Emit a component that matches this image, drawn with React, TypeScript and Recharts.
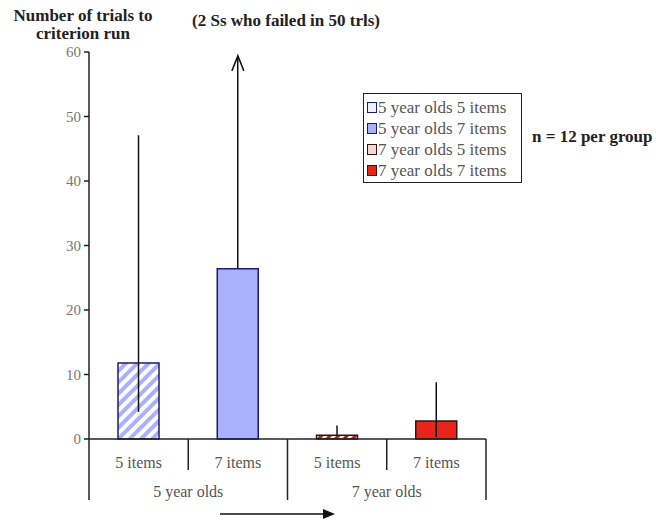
import { BarChart, Bar, XAxis, YAxis, Cell, ErrorBar, ReferenceDot } from 'recharts';

const categories = ['5 items', '7 items', '5 items', '7 items'];
const groups = ['5 year olds', '5 year olds', '7 year olds', '7 year olds'];
const meanTrials = [11.8, 26.4, 0.6, 2.8];
const errorBelow = [7.6, 0, 0, 2.5];
const errorAbove = [35.3, 33.0, 1.5, 6.0];
const seriesNames = ['5 year olds 5 items', '5 year olds 7 items', '7 year olds 5 items', '7 year olds 7 items'];
const yTicks = [0, 10, 20, 30, 40, 50, 60];
// the 2 Ss who failed in 50 trials push the bar's error past the top
const failedCeiling = 59.4;

const FONT = '"Liberation Serif", "Times New Roman", serif';
const fills = ['url(#hatchBlue)', '#aab0fc', 'url(#hatchRed)', '#e8251a'];
const strokes = ['#1c1c6e', '#1c1c6e', '#3a1010', '#3a1010'];
const swatches = ['#eef0ff', '#aab0fc', '#f4d6d6', '#e8251a'];

const data = categories.map((item, i) => ({
  key: `c${i}`,
  item,
  group: groups[i],
  value: meanTrials[i],
  err: [errorBelow[i], errorAbove[i]],
}));

function CategoryTick(props: any) {
  const { x, y, index, visibleTicksCount, width } = props;
  const n = visibleTicksCount || categories.length;
  const bw = width / n;
  const left = x - bw / 2;
  const groupStart = index === 0 || groups[index] !== groups[index - 1];
  const last = index === n - 1;
  return (
    <g>
      <line x1={left} y1={y} x2={left} y2={groupStart ? y + 61 : y + 31} stroke="#222" strokeWidth={1.5} />
      {last && <line x1={left + bw} y1={y} x2={left + bw} y2={y + 61} stroke="#222" strokeWidth={1.5} />}
      <text x={x} y={y + 29} textAnchor="middle" fontFamily={FONT} fontSize={16} fill="#555">
        {categories[index]}
      </text>
      {groupStart && (
        <text x={left + bw} y={y + 58} textAnchor="middle" fontFamily={FONT} fontSize={16} fill="#555">
          {groups[index]}
        </text>
      )}
    </g>
  );
}

function ArrowHead(props: any) {
  const { cx, cy } = props;
  return (
    <path d={`M${cx - 6},${cy + 15} L${cx},${cy} L${cx + 6},${cy + 15}`} fill="none" stroke="#111" strokeWidth={1.5} />
  );
}

export default function App() {
  return (
    <div style={{ position: 'absolute', left: 0, top: 0, width: 656, height: 520, background: '#fff', fontFamily: FONT }}>
      <BarChart width={656} height={520} data={data} margin={{ top: 52, right: 170, bottom: 0, left: 0 }} barSize={41}>
        <defs>
          <pattern id="hatchBlue" patternUnits="userSpaceOnUse" width={8} height={8} patternTransform="rotate(45)">
            <rect width={8} height={8} fill="#fff" />
            <rect width={4} height={8} fill="#aab0fc" />
          </pattern>
          <pattern id="hatchRed" patternUnits="userSpaceOnUse" width={6} height={6} patternTransform="rotate(45)">
            <rect width={6} height={6} fill="#fff" />
            <rect width={3} height={6} fill="#b02020" />
          </pattern>
        </defs>
        <XAxis
          dataKey="key"
          type="category"
          height={81}
          tickSize={0}
          tickMargin={0}
          tickLine={false}
          axisLine={{ stroke: '#222', strokeWidth: 1.5 }}
          tick={<CategoryTick />}
          interval={0}
        />
        <YAxis
          width={89}
          domain={[0, 60]}
          ticks={yTicks}
          interval={0}
          tickSize={5}
          tickMargin={3}
          axisLine={{ stroke: '#222', strokeWidth: 1.5 }}
          tickLine={{ stroke: '#222', strokeWidth: 1.5 }}
          tick={{ fill: '#777', fontSize: 15, fontFamily: FONT }}
        />
        <Bar dataKey="value" isAnimationActive={false} strokeWidth={1.5}>
          {data.map((d, i) => (
            <Cell key={d.key} fill={fills[i]} stroke={strokes[i]} />
          ))}
          <ErrorBar dataKey="err" direction="y" width={0} stroke="#111" strokeWidth={1.5} isAnimationActive={false} />
        </Bar>
        <ReferenceDot x="c1" y={failedCeiling} r={0} shape={<ArrowHead />} />
      </BarChart>

      <div style={{ position: 'absolute', left: 0, top: 7, width: 166, textAlign: 'center', fontWeight: 'bold', fontSize: 17, lineHeight: '18px', color: '#222' }}>
        Number of trials to<br />criterion run
      </div>
      <div style={{ position: 'absolute', left: 176, top: 11, width: 220, textAlign: 'center', fontWeight: 'bold', fontSize: 17, lineHeight: '20px', color: '#222', whiteSpace: 'nowrap' }}>
        (2 Ss who failed in 50 trls)
      </div>
      <div style={{ position: 'absolute', left: 532, top: 127, fontWeight: 'bold', fontSize: 17, lineHeight: '20px', color: '#222', whiteSpace: 'nowrap' }}>
        n = 12 per group
      </div>
      <div style={{ position: 'absolute', left: 363, top: 93, width: 159, height: 90, border: '1.5px solid #222', boxSizing: 'border-box', padding: '3px 0 0 3px' }}>
        {seriesNames.map((name, i) => (
          <div key={name} style={{ display: 'flex', alignItems: 'center', height: 21, fontSize: 17, color: '#555', whiteSpace: 'nowrap' }}>
            <span style={{ display: 'inline-block', width: 8, height: 9, background: swatches[i], border: `1.5px solid ${strokes[i]}`, marginRight: 1 }} />
            {name}
          </div>
        ))}
      </div>
      <svg style={{ position: 'absolute', left: 0, top: 0 }} width={656} height={520} pointerEvents="none">
        <line x1={220} y1={514} x2={325} y2={514} stroke="#111" strokeWidth={1.5} />
        <path d="M335,514 L323,509 L323,519 Z" fill="#111" />
      </svg>
    </div>
  );
}
